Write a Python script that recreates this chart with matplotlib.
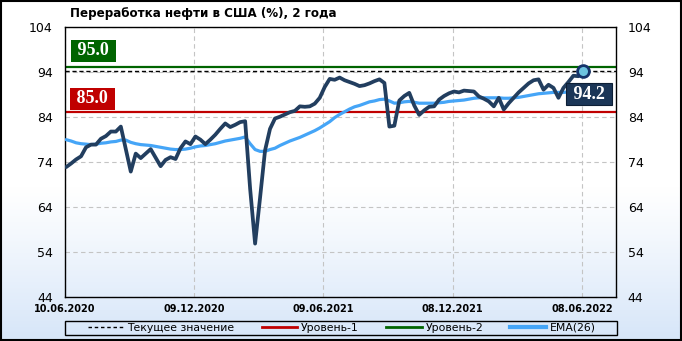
import numpy as np
import pandas as pd
import matplotlib
matplotlib.use("Agg")
import matplotlib.pyplot as plt
from matplotlib.lines import Line2D
from matplotlib.patches import Rectangle


TITLE = "Переработка нефти в США (%), 2 года"
FIRST_DATE = "2020-06-12"

# weekly refinery utilization, %
utilization = [
    72.8, 73.6, 74.5, 75.2, 77.2, 77.8, 77.8, 79.1, 79.7, 80.7,
    80.7, 81.8, 76.8, 71.8, 75.8, 74.8, 75.8, 76.8, 74.9, 73.0,
    74.4, 75.0, 74.6, 77.0, 78.5, 77.9, 79.6, 78.9, 77.9, 78.9,
    80.0, 81.3, 82.5, 81.7, 82.2, 82.8, 83.0, 68.0, 55.8, 66.0,
    76.5, 81.3, 83.6, 84.0, 84.5, 85.0, 85.3, 86.3, 86.2, 86.3,
    86.9, 88.2, 90.6, 92.4, 92.2, 92.7, 92.1, 91.7, 91.3, 90.8,
    91.0, 91.4, 91.9, 92.3, 91.5, 81.8, 82.0, 87.6, 88.6, 89.3,
    86.5, 84.4, 85.4, 86.2, 86.3, 87.8, 88.6, 89.2, 89.6, 89.4,
    89.8, 89.7, 89.6, 88.5, 88.0, 87.4, 86.3, 88.2, 85.6, 87.0,
    88.2, 89.4, 90.4, 91.4, 92.1, 92.3, 90.0, 91.1, 90.4, 88.2,
    90.4, 91.7, 93.1, 93.0, 94.2,
]

# EMA(26) as drawn on the chart
ema26 = [
    78.9, 78.6, 78.2, 78.0, 77.9, 77.8, 77.9, 78.1, 78.2, 78.4,
    78.5, 78.8, 78.8, 78.3, 78.0, 77.8, 77.7, 77.6, 77.4, 77.2,
    77.0, 76.8, 76.7, 76.7, 76.8, 77.0, 77.3, 77.5, 77.6, 77.8,
    78.0, 78.3, 78.6, 78.8, 79.0, 79.2, 79.5, 78.0, 76.7, 76.3,
    76.3, 76.7, 77.0, 77.6, 78.1, 78.6, 79.0, 79.4, 79.9, 80.4,
    80.9, 81.5, 82.2, 82.9, 83.8, 84.5, 85.1, 85.7, 86.2, 86.5,
    86.9, 87.3, 87.5, 87.8, 87.9, 87.5, 87.0, 87.1, 87.3, 87.4,
    87.2, 87.0, 87.0, 87.0, 87.0, 87.1, 87.2, 87.4, 87.5, 87.6,
    87.7, 87.9, 88.1, 88.2, 88.2, 88.2, 88.2, 88.2, 88.1, 88.1,
    88.2, 88.3, 88.5, 88.7, 88.9, 89.1, 89.2, 89.3, 89.4, 89.4,
    89.4, 89.5, 89.6, 89.7, 89.9,
]

LEVEL_1 = 85.0
LEVEL_2 = 95.0

y_ticks = [44, 54, 64, 74, 84, 94, 104]
x_tick_dates = ["2020-06-10", "2020-12-09", "2021-06-09", "2021-12-08", "2022-06-08"]
x_tick_labels = ["10.06.2020", "09.12.2020", "09.06.2021", "08.12.2021", "08.06.2022"]

legend_labels = ["Текущее значение", "Уровень-1", "Уровень-2", "EMA(26)"]

LINE_COLOR = "#223e5f"
EMA_COLOR = "#45a5f7"
RED = "#c00000"
GREEN = "#006400"
GRID_COLOR = "#c4c4c4"


def main():
    dates = pd.date_range(FIRST_DATE, periods=len(utilization), freq="7D")
    ticks = pd.to_datetime(x_tick_dates)
    current = utilization[-1]

    fig = plt.figure(figsize=(6.82, 3.41), dpi=100)

    # background gradient (white on top, light blue at the bottom)
    bg = fig.add_axes([0, 0, 1, 1], zorder=-10)
    frac = np.linspace(0, 1, 300)[:, None]
    t = np.clip((frac - 0.55) / 0.45, 0, 1) ** 1.1
    top = np.array([1.0, 1.0, 1.0])
    bottom = np.array([0.84, 0.90, 0.975])
    grad = top * (1 - t[..., None]) + bottom * t[..., None]
    grad = np.repeat(grad, 2, axis=1)
    bg.imshow(grad, aspect="auto", extent=[0, 1, 0, 1], origin="upper")
    bg.set_axis_off()

    ax = fig.add_axes([64.7 / 682, 1 - 296.7 / 341, 551.3 / 682, 270 / 341])
    ax.set_facecolor("none")

    ax.axhline(current, color="black", lw=1, ls=(0, (3, 2)), zorder=2)
    ax.axhline(LEVEL_1, color=RED, lw=1.6, zorder=2)
    ax.axhline(LEVEL_2, color=GREEN, lw=1.6, zorder=2)

    ax.plot(dates, ema26, color=EMA_COLOR, lw=2.3, zorder=3, solid_capstyle="round")
    ax.plot(dates, utilization, color=LINE_COLOR, lw=2.7, zorder=4,
            solid_joinstyle="round", solid_capstyle="round")
    ax.plot(dates[-1], current, "o", ms=8.5, mfc="#6cc3df", mec="#14336a", mew=2, zorder=6)

    ax.set_ylim(44, 104)
    ax.set_xlim(pd.Timestamp(x_tick_dates[0]), pd.Timestamp(x_tick_dates[0]) + pd.Timedelta(days=776))
    ax.set_yticks(y_ticks)
    ax.set_xticks(ticks)
    ax.set_xticklabels(x_tick_labels, fontsize=7, fontweight="bold")
    ax.tick_params(axis="x", length=0, pad=5)
    ax.tick_params(axis="y", length=0, pad=8.5, labelsize=9,
                   left=True, right=True, labelleft=True, labelright=True)

    ax.grid(True, color=GRID_COLOR, ls=(0, (4, 3)), lw=0.8)
    ax.set_axisbelow(True)
    for sp in ax.spines.values():
        sp.set_color("black")
        sp.set_linewidth(1)

    # level / value labels
    label_style = dict(textcoords="offset points", color="white", fontsize=13,
                       fontweight="bold", family="Liberation Serif", zorder=7)
    ax.annotate(" %.1f " % LEVEL_2, xy=(0, LEVEL_2), xycoords=("axes fraction", "data"),
                xytext=(6.1, 5.6), ha="left", va="bottom",
                bbox=dict(boxstyle="square,pad=0.14", fc=GREEN, ec="none"), **label_style)
    ax.annotate(" %.1f " % LEVEL_1, xy=(0, LEVEL_1), xycoords=("axes fraction", "data"),
                xytext=(5.4, 3.4), ha="left", va="bottom",
                bbox=dict(boxstyle="square,pad=0.14", fc=RED, ec="none"), **label_style)
    ax.annotate(" %.1f " % current, xy=(dates[-1], current),
                xytext=(4, -17), ha="center", va="center",
                bbox=dict(boxstyle="square,pad=0.14", fc="#1b3657", ec="#0d1f35", lw=0.8),
                **label_style)

    fig.text(70 / 682, 1 - 13 / 341, TITLE, ha="left", va="center",
             fontsize=8.6, fontweight="bold")

    handles = [
        Line2D([], [], color="black", lw=1, ls=(0, (2.5, 2))),
        Line2D([], [], color=RED, lw=2),
        Line2D([], [], color=GREEN, lw=2),
        Line2D([], [], color=EMA_COLOR, lw=3),
    ]
    fig.legend(handles, legend_labels, loc="center", ncol=4,
               bbox_to_anchor=(342 / 682, 1 - 328 / 341),
               fontsize=7.8, frameon=False, handlelength=3.3,
               handletextpad=0.35, columnspacing=2.5, borderpad=0.1)
    fig.patches.append(Rectangle((64.5 / 682, 1 - 335 / 341), 552.5 / 682, 14 / 341,
                                 transform=fig.transFigure, fill=False, ec="black", lw=1))

    fig.patches.append(Rectangle((0.001, 0.002), 0.997, 0.996, transform=fig.transFigure,
                                 fill=False, ec="black", lw=1.5))

    fig.savefig("out.png", dpi=100)
    plt.close(fig)


if __name__ == "__main__":
    main()
